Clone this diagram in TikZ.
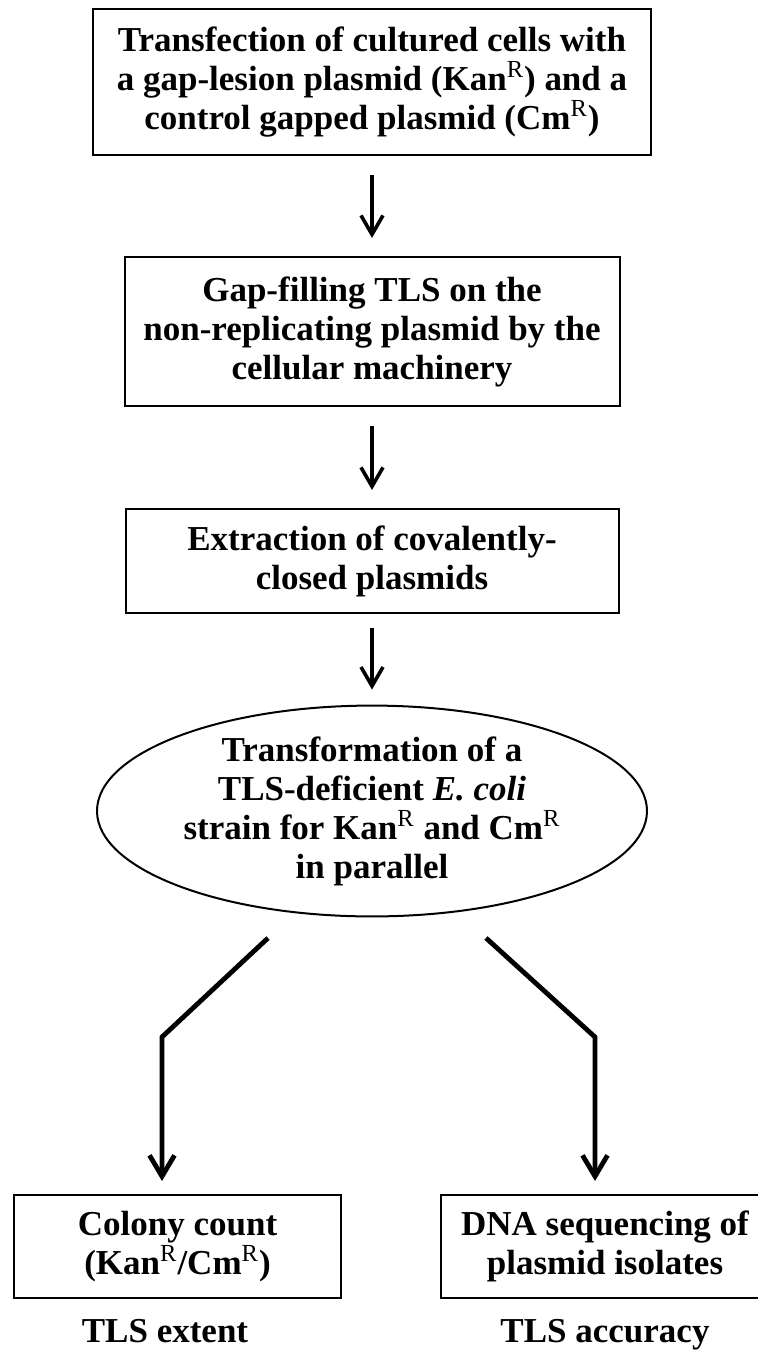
\documentclass[tikz,border=0pt]{standalone}
\usepackage{fontspec}
\setmainfont{Liberation Serif}
\usetikzlibrary{arrows.meta,shapes.geometric}

\newcommand{\res}{\textsuperscript{\mdseries R}}

\begin{document}
\begin{tikzpicture}[x=.5pt,y=-.5pt,
    font=\bfseries\fontsize{17.5}{19.5}\selectfont,
    box/.style={draw,line width=1pt,align=center,inner sep=0pt},
    stp/.style={line width=1.8pt,-{Straight Barb[length=9.5pt,width=11pt]},
      shorten <=9.5pt,shorten >=9pt},
    brn/.style={line width=2.4pt,-{Straight Barb[length=10.5pt,width=12.5pt]},
      line join=miter,shorten >=6.5pt}]
\useasboundingbox (0,0) rectangle (758,1351);

\node (tf) [box,minimum width=279pt,minimum height=73pt] at (372,82)
    {Transfection of cultured cells with\\
     a gap-lesion plasmid (Kan\res) and a\\
     control gapped plasmid (Cm\res)};
\node (gf) [box,minimum width=247.5pt,minimum height=74.5pt] at (372,331.5)
    {Gap-filling TLS on the\\
     non-replicating plasmid by the\\
     cellular machinery};
\node (ex) [box,minimum width=246.5pt,minimum height=52pt] at (372,561)
    {Extraction of covalently-\\ closed plasmids};
\node (tr) [draw,line width=1pt,ellipse,align=center,inner sep=0pt,
    minimum width=275pt,minimum height=104pt] at (372,811)
    {Transformation of a\\
     TLS-deficient \textit{E. coli}\\
     strain for Kan\res{} and Cm\res\\
     in parallel};
\node (cc) [box,minimum width=163.5pt,minimum height=51.5pt] at (177.5,1246.5)
    {Colony count\\ (Kan\res/Cm\res)};
\node (ds) [box,minimum width=164pt,minimum height=51.5pt] at (605,1246.5)
    {DNA sequencing of\\ plasmid isolates};
\node (ext) [anchor=base] at (165,1342) {TLS extent};
\node (acc) [anchor=base] at (605,1342) {TLS accuracy};

\draw[stp] (tf) -- (gf);
\draw[stp] (gf) -- (ex);
\draw[stp,shorten <=7pt,shorten >=7.5pt] (ex) -- (tr);

\coordinate (lt) at (268,938);
\coordinate (lb) at (162,1037);
\draw[brn] (lt) -- (lb) -- (lb |- cc.north);
\coordinate (rt) at (486,938);
\coordinate (rb) at (595,1037);
\draw[brn] (rt) -- (rb) -- (rb |- ds.north);

\end{tikzpicture}
\end{document}
